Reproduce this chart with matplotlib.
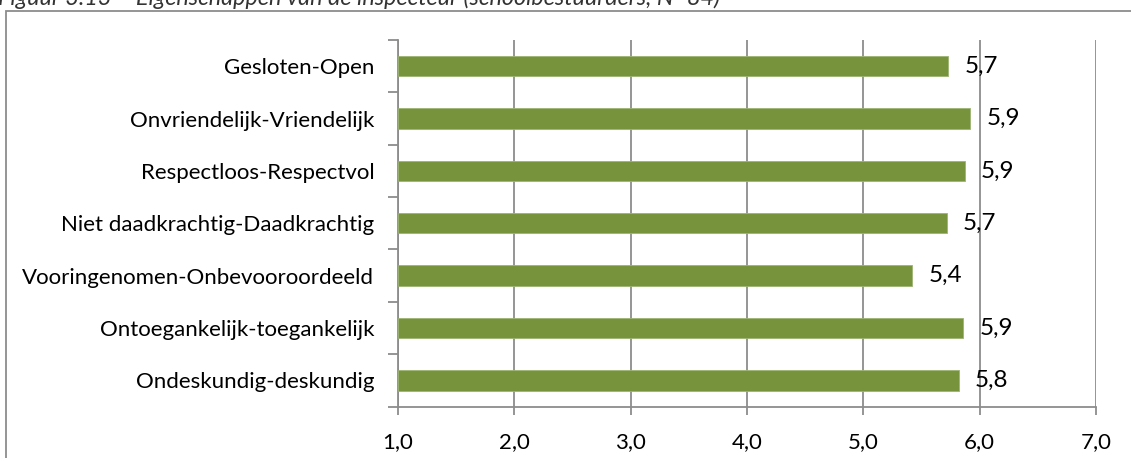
import matplotlib
matplotlib.use("Agg")
import matplotlib.pyplot as plt
from matplotlib.patches import Rectangle
from matplotlib.ticker import FixedLocator

plt.rcParams['font.family'] = ['Lato', 'DejaVu Sans']

categories = [
    "Gesloten-Open",
    "Onvriendelijk-Vriendelijk",
    "Respectloos-Respectvol",
    "Niet daadkrachtig-Daadkrachtig",
    "Vooringenomen-Onbevooroordeeld",
    "Ontoegankelijk-toegankelijk",
    "Ondeskundig-deskundig",
]
scores = [5.73, 5.92, 5.87, 5.72, 5.42, 5.86, 5.82]
x_ticks = [1.0, 2.0, 3.0, 4.0, 5.0, 6.0, 7.0]
title = "Figuur 3.13 – Eigenschappen van de inspecteur (schoolbestuurders, N=84)"

W, H = 1131, 458
fig = plt.figure(figsize=(W / 100, H / 100), dpi=100)

# frame of the chart object, running off the right and bottom edges
fig.add_artist(Rectangle((6 / W, -0.2), 1.5, (1 - 11 / H) + 0.2,
                         transform=fig.transFigure, fill=False,
                         edgecolor="#8c8c8c", linewidth=1.3))

fig.text(-0.002, 1 - 5 / H, title, ha="left", va="baseline",
         fontsize=16.8, style="italic", color="#333333")

ax = fig.add_axes([398 / W, 1 - 406.5 / H, (1096 - 398) / W, (406.5 - 40) / H])

grid_color = "#8c8c8c"
ypos = list(range(len(categories)))
ax.barh(ypos, [s - x_ticks[0] for s in scores], left=x_ticks[0], height=0.39,
        color="#77933C", edgecolor="#9db474", linewidth=0.6, zorder=3)

for y, s in zip(ypos, scores):
    ax.annotate(f"{s:.1f}".replace(".", ","), xy=(s, y), xytext=(11.5, 0),
                textcoords="offset points", ha="left", va="center",
                fontsize=17.5, color="#000000", zorder=4)

ax.set_xlim(x_ticks[0], x_ticks[-1])
ax.set_ylim(len(categories) - 0.5, -0.5)
ax.set_xticks(x_ticks)
ax.set_xticklabels([f"{t:.1f}".replace(".", ",") for t in x_ticks])
ax.set_yticks(ypos)
ax.set_yticklabels(categories)
ax.yaxis.set_minor_locator(FixedLocator([i - 0.5 for i in range(len(categories) + 1)]))

ax.grid(axis="x", color=grid_color, linewidth=1.3, zorder=0)
ax.set_axisbelow(True)
for side in ("top", "right"):
    ax.spines[side].set_visible(False)
for side in ("left", "bottom"):
    ax.spines[side].set_color(grid_color)
    ax.spines[side].set_linewidth(1.3)

ax.tick_params(axis="y", which="major", length=0, pad=17, labelsize=16)
ax.tick_params(axis="y", which="minor", length=7, width=1.3, color=grid_color)
ax.tick_params(axis="x", which="major", length=5.5, width=1.3, color=grid_color,
               pad=13, labelsize=16)

fig.savefig("out.png", dpi=100)
